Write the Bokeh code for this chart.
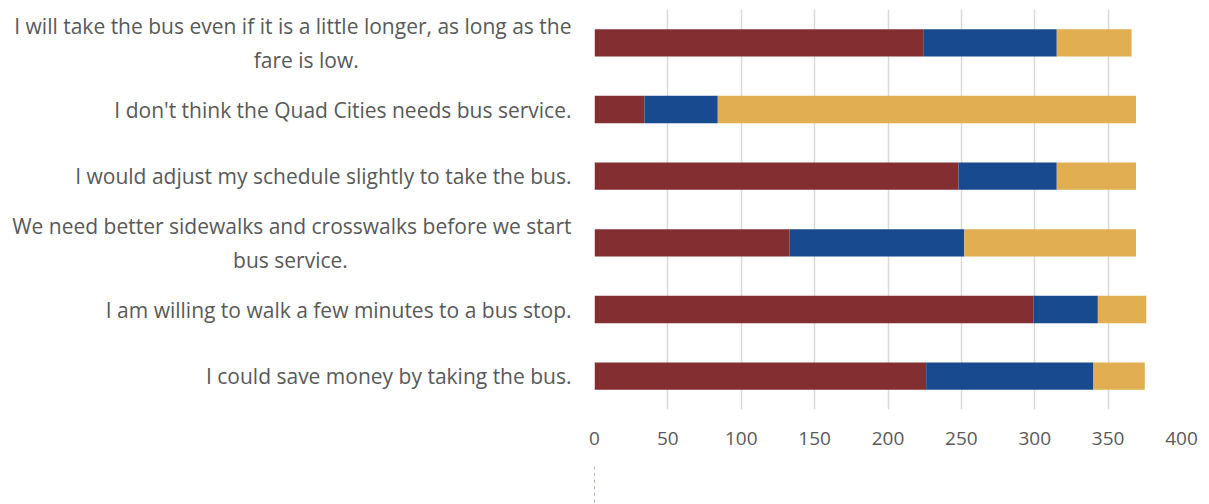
from bokeh.plotting import figure
from bokeh.layouts import column
from bokeh.models import ColumnDataSource, FactorRange, Range1d, Legend, LegendItem, FixedTicker
from bokeh.embed import file_html
from bokeh.resources import INLINE

NB = "\u00a0"
questions = [
    "I will take the bus even if it is a little longer, as long as the\nfare is low." + NB * 39,
    "I don't think the Quad Cities needs bus service.",
    "I would adjust my schedule slightly to take the bus.",
    "We need better sidewalks and crosswalks before we start\nbus service." + NB * 41,
    "I am willing to walk a few minutes to a bus stop.",
    "I could save money by taking the bus.",
]
agree = [224, 34, 248, 133, 299, 226]
unsure = [91, 50, 67, 119, 44, 114]
disagree = [51, 285, 54, 117, 33, 35]
series = ["Agree", "Unsure", "Disagree"]
colors = ["#832E31", "#174A8F", "#E1AF51"]
x_ticks = [0, 50, 100, 150, 200, 250, 300, 350, 400]

FONT = "Open Sans"
TXT = "#595959"

source = ColumnDataSource(dict(q=questions, Agree=agree, Unsure=unsure, Disagree=disagree))
y_range = FactorRange(factors=list(reversed(questions)))

# main chart
p = figure(frame_width=587, frame_height=400, output_backend="svg", toolbar_location=None,
           y_range=y_range, x_range=Range1d(0, 400),
           min_border_left=594, min_border_right=19, min_border_top=9, min_border_bottom=55)

p.hbar_stack(series, y="q", height=0.41, source=source, color=colors, line_color=None)

p.outline_line_color = None
p.ygrid.grid_line_color = None
p.xgrid.grid_line_color = "#D9D9D9"
p.xgrid.grid_line_width = 1.5
p.xaxis.ticker = FixedTicker(ticks=x_ticks)
for ax in (p.xaxis, p.yaxis):
    ax.axis_line_color = None
    ax.major_tick_line_color = None
    ax.minor_tick_line_color = None
    ax.major_label_text_font = FONT
    ax.major_label_text_color = TXT
p.xaxis.major_label_text_font_size = "19px"
p.yaxis.major_label_text_font_size = "21px"
p.xaxis.major_label_standoff = 16
p.yaxis.major_label_standoff = 17

# legend strip (same data; bars fall outside its x range, only the legend shows)
lg = figure(width=1200, height=40, output_backend="svg", toolbar_location=None,
            y_range=y_range, x_range=Range1d(1000, 1001),
            x_axis_location=None, y_axis_location=None, min_border=0)
lg.outline_line_color = None
lg.xgrid.grid_line_color = None
lg.ygrid.grid_line_color = None
lg_renderers = lg.hbar_stack(series, y="q", height=0.41, source=source, color=colors,
                             line_color=None)

legend = Legend(items=[LegendItem(label=s, renderers=[r]) for s, r in zip(series, lg_renderers)],
                orientation="horizontal", location=(842, 1),
                label_text_font=FONT, label_text_color=TXT, label_text_font_size="19px",
                glyph_width=15, glyph_height=15, spacing=31, label_standoff=4,
                padding=0, margin=0,
                border_line_color=None, background_fill_alpha=0)
lg.add_layout(legend)

layout = column(p, lg, spacing=0)
open("out.html", "w").write(file_html(layout, INLINE))
